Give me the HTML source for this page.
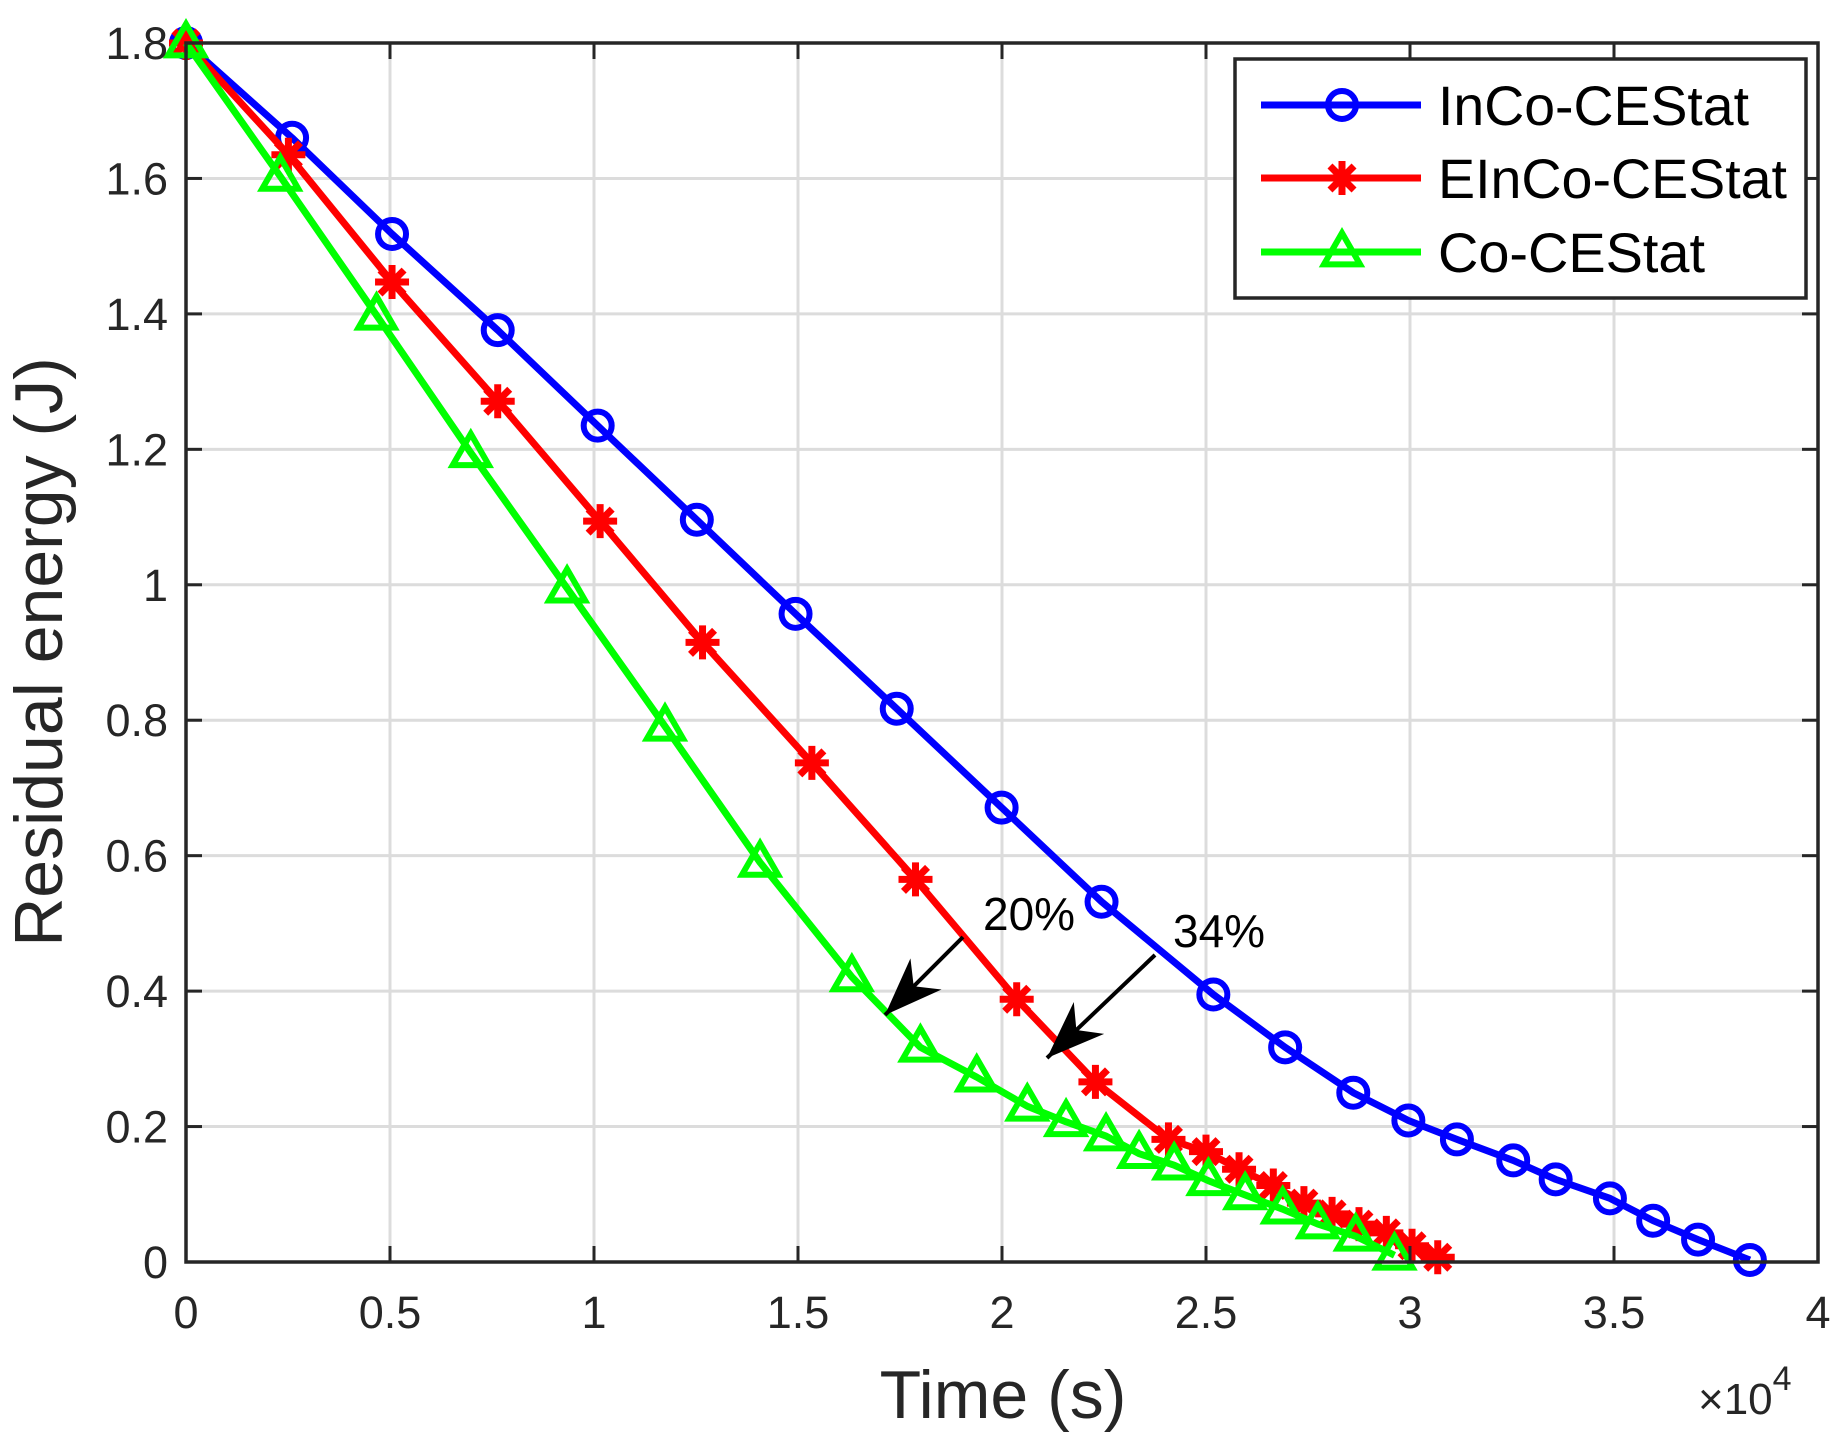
<!DOCTYPE html>
<html><head><meta charset="utf-8"><style>
html,body{margin:0;padding:0;background:#fff;}
svg{display:block;font-family:"Liberation Sans",Arial,sans-serif;}
</style></head><body>
<svg id="chart" width="1836" height="1438" viewBox="0 0 1836 1438" xmlns="http://www.w3.org/2000/svg">
<rect width="1836" height="1438" fill="#fff"/>
<g id="grid"></g>
<g id="series"></g>
<g id="axes"></g>
<g id="annot"></g>
<g id="legend"></g>
</svg>
<script>
const xTicks=[0,0.5,1,1.5,2,2.5,3,3.5,4];
const xTickLabels=["0","0.5","1","1.5","2","2.5","3","3.5","4"];
const yTicks=[0,0.2,0.4,0.6,0.8,1,1.2,1.4,1.6,1.8];
const yTickLabels=["0","0.2","0.4","0.6","0.8","1","1.2","1.4","1.6","1.8"];
const seriesNames=["InCo-CEStat","EInCo-CEStat","Co-CEStat"];
const blueX=[0,0.26,0.505,0.764,1.009,1.252,1.494,1.742,1.999,2.244,2.518,2.694,2.861,2.996,3.115,3.253,3.357,3.490,3.596,3.706,3.833];
const blueY=[1.8,1.66,1.518,1.376,1.235,1.096,0.957,0.817,0.671,0.532,0.395,0.317,0.25,0.209,0.181,0.15,0.122,0.094,0.061,0.033,0.003];
const redX=[0,0.251,0.505,0.764,1.015,1.266,1.534,1.788,2.036,2.229,2.408,2.5,2.581,2.665,2.74,2.809,2.875,2.942,3.005,3.068];
const redY=[1.8,1.635,1.447,1.271,1.094,0.915,0.737,0.565,0.388,0.266,0.181,0.163,0.137,0.113,0.087,0.071,0.056,0.043,0.024,0.007];
const greenX=[0,0.231,0.467,0.698,0.934,1.174,1.407,1.632,1.8,1.938,2.062,2.157,2.255,2.336,2.422,2.506,2.596,2.688,2.774,2.867,2.962];
const greenY=[1.8,1.603,1.398,1.195,0.995,0.791,0.590,0.421,0.317,0.273,0.23,0.207,0.186,0.16,0.143,0.12,0.099,0.078,0.056,0.038,0.01];

const L=186,R=1818,T=43,B=1262;
const sx=v=>L+(v-0)/(4-0)*(R-L);
const sy=v=>B-(v-0)/(1.8-0)*(B-T);
const NS="http://www.w3.org/2000/svg";
function mk(tag,attrs,parent){const e=document.createElementNS(NS,tag);for(const k in attrs)e.setAttribute(k,attrs[k]);parent.appendChild(e);return e;}
const grid=document.getElementById('grid'),axes=document.getElementById('axes'),ser=document.getElementById('series'),ann=document.getElementById('annot'),leg=document.getElementById('legend');

xTicks.forEach((t,i)=>{
  const x=sx(t);
  if(i>0&&i<xTicks.length-1){const g=mk('line',{x1:x,x2:x,y1:T,y2:B,stroke:'#dcdcdc','stroke-width':3},grid);
  
  }
  mk('line',{x1:x,x2:x,y1:B,y2:B-16,stroke:'#262626','stroke-width':3},axes);
  mk('line',{x1:x,x2:x,y1:T,y2:T+16,stroke:'#262626','stroke-width':3},axes);
  const tx=mk('text',{x:x,y:B+66,'text-anchor':'middle','font-size':45,fill:'#262626'},axes);
  tx.textContent=xTickLabels[i];
  
  
});
yTicks.forEach((t,i)=>{
  const y=sy(t);
  if(i>0&&i<yTicks.length-1){const g=mk('line',{x1:L,x2:R,y1:y,y2:y,stroke:'#dcdcdc','stroke-width':3},grid);
  
  }
  mk('line',{x1:L,x2:L+16,y1:y,y2:y,stroke:'#262626','stroke-width':3},axes);
  mk('line',{x1:R,x2:R-16,y1:y,y2:y,stroke:'#262626','stroke-width':3},axes);
  const tx=mk('text',{x:L-18,y:y+16,'text-anchor':'end','font-size':45,fill:'#262626'},axes);
  tx.textContent=yTickLabels[i];
  
  
});
const frame=mk('rect',{x:L,y:T,width:R-L,height:B-T,fill:'none',stroke:'#262626','stroke-width':3.5},axes);


const xl=mk('text',{x:1003,y:1418,'text-anchor':'middle','font-size':68,fill:'#262626'},axes);
xl.textContent='Time (s)';


const ex=mk('text',{x:1698,y:1414,'font-size':44,fill:'#262626'},axes);
ex.innerHTML='×10<tspan dy="-24" font-size="34">4</tspan>';


const yl=mk('text',{x:0,y:0,'text-anchor':'middle','font-size':68,fill:'#262626',transform:'translate(62,652) rotate(-90)'},axes);
yl.textContent='Residual energy (J)';



function marker(kind,x,y,color,parent){
  const g=mk('g',{},parent);
  if(kind==='o'){mk('circle',{cx:x,cy:y,r:14,fill:'none',stroke:color,'stroke-width':6},g);}
  else if(kind==='*'){const r=17;for(let a=0;a<4;a++){const an=a*Math.PI/4;mk('line',{x1:x-r*Math.cos(an),y1:y-r*Math.sin(an),x2:x+r*Math.cos(an),y2:y+r*Math.sin(an),stroke:color,'stroke-width':7},g);}}
  else {const r=19;mk('polygon',{points:`${x},${y-r} ${x-r*0.95},${y+r*0.65} ${x+r*0.95},${y+r*0.65}`,fill:'none',stroke:color,'stroke-width':6},g);}
  return g;
}
function drawSeries(xs,ys,color,kind,name){
  const g=mk('g',{},ser);
  
  
  mk('polyline',{points:xs.map((v,i)=>sx(v)+','+sy(ys[i])).join(' '),fill:'none',stroke:color,'stroke-width':7,'stroke-linejoin':'round'},g);
  xs.forEach((v,i)=>{const m=marker(kind,sx(v),sy(ys[i]),color,g);
    
    });
}
drawSeries(blueX,blueY,'#0000ff','o','inco-cestat-series');
drawSeries(redX,redY,'#ff0000','*','einco-cestat-series');
drawSeries(greenX,greenY,'#00ff00','^','co-cestat-series');

function arrow(x1,y1,x2,y2,name){
  const g=mk('g',{},ann);
  
  
  mk('line',{x1:x1,y1:y1,x2:x2,y2:y2,stroke:'#000','stroke-width':4},g);
  const a=Math.atan2(y2-y1,x2-x1),len=58,w=22;
  const bx=x2-len*Math.cos(a),by=y2-len*Math.sin(a);
  const mx=x2-len*0.7*Math.cos(a),my=y2-len*0.7*Math.sin(a);
  mk('polygon',{points:`${x2},${y2} ${bx+w*Math.sin(a)},${by-w*Math.cos(a)} ${mx},${my} ${bx-w*Math.sin(a)},${by+w*Math.cos(a)}`,fill:'#000'},g);
}
arrow(963,937,885,1015,'arrow-20');
arrow(1155,955,1047,1058,'arrow-34');
const t20=mk('text',{x:983,y:930,'font-size':46,fill:'#000'},ann);t20.textContent='20%';


const t34=mk('text',{x:1173,y:947,'font-size':46,fill:'#000'},ann);t34.textContent='34%';



const lb=mk('rect',{x:1235,y:59,width:571,height:239,fill:'#fff',stroke:'#262626','stroke-width':3.5},leg);


const colors=['#0000ff','#ff0000','#00ff00'],kinds=['o','*','^'],ly=[105,178,252],tl=[311,349,267];
seriesNames.forEach((n,i)=>{
  const g=mk('g',{},leg);
  
  
  mk('line',{x1:1261,x2:1421,y1:ly[i],y2:ly[i],stroke:colors[i],'stroke-width':7},g);
  marker(kinds[i],1342,ly[i],colors[i],g);
  const t=mk('text',{x:1438,y:ly[i]+20,'font-size':56,fill:'#000',textLength:tl[i],lengthAdjust:'spacingAndGlyphs'},g);
  t.textContent=n;
});
</script>
</body></html>
